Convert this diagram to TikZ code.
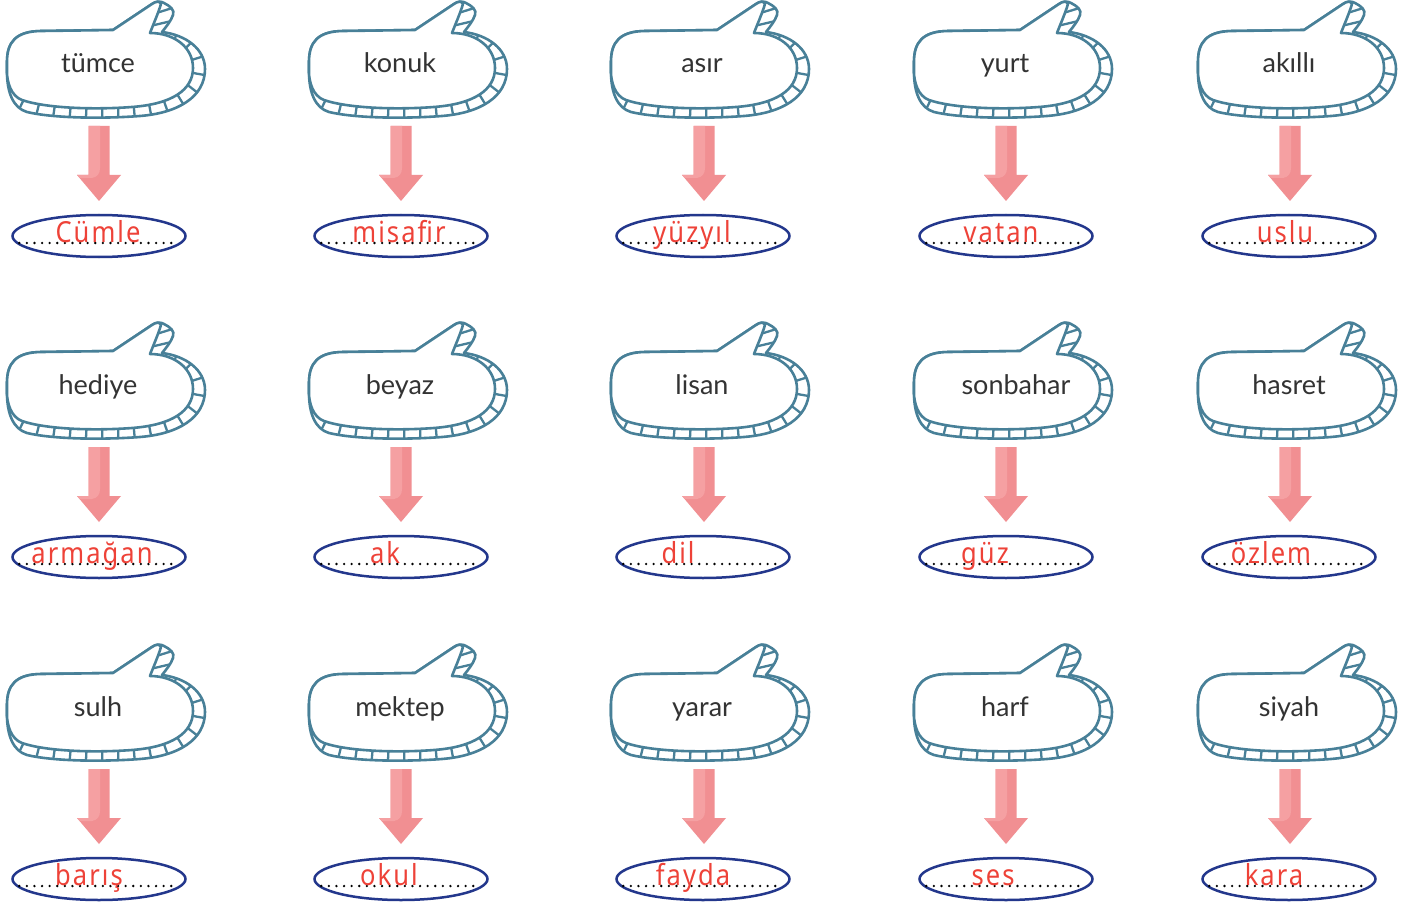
\documentclass[tikz,border=0pt]{standalone}
\usepackage{fontspec}
\setmainfont{Lato}
\newfontfamily\handfont[LetterSpace=8]{Noto Sans}
\usetikzlibrary{decorations.markings,shapes.geometric}
\definecolor{bubteal}{RGB}{72,128,152}
\definecolor{ansblue}{RGB}{35,55,140}
\definecolor{handred}{RGB}{238,66,56}
\definecolor{arrpink}{RGB}{241,143,146}
\definecolor{arrlight}{RGB}{245,160,162}
\def\bubK{(7,62) .. controls (7,42) and (16,31) .. (42,31) -- (113,30) -- (152,4) .. controls (156,1) and (161,1) .. (164,3) .. controls (170,6) and (175,10) .. (173,15) .. controls (171,21) and (166,27) .. (162,32) .. controls (186,35) and (205,49) .. (205,69) .. controls (205,97) and (178,113) .. (140,116) .. controls (100,119) and (52,118) .. (27,112) .. controls (13,108) and (7,92) .. (7,72) -- cycle}
\def\bubF{(7,62) .. controls (7,42) and (16,31) .. (42,31) -- (113,30) -- (152,4) .. controls (156,1) and (160,1) .. (161,4) .. controls (158,14) and (153,25) .. (150,33) .. controls (174,33) and (193,47) .. (193,68) .. controls (193,90) and (172,104) .. (132,107) .. controls (92,110) and (45,108) .. (22,100) .. controls (11,96) and (7,82) .. (7,72) -- cycle}
\def\bubM{(9,85) .. controls (15,104) and (50,113) .. (132,112) .. controls (175,109) and (199,92) .. (199,68) .. controls (199,48) and (182,35) .. (163,32)}
\tikzset{
  bubline/.style={draw=bubteal, line width=2.6pt, line join=round},
  hatchline/.style={draw=bubteal, line width=2.3pt},
  wordtext/.style={font=\fontsize{27}{30}\selectfont, text=black!80, anchor=base, inner sep=0pt},
  handtext/.style={font=\handfont\fontsize{29}{31}\selectfont, text=handred, anchor=base, inner sep=0pt, xscale=0.88},
  ansellipse/.style={ellipse, draw=ansblue, line width=2.5pt, minimum width=173pt, minimum height=42pt, inner sep=0pt},
  dotline/.style={draw=black, line width=2.6pt, line cap=round, dash pattern=on 0pt off 7.6pt},
  pics/bubble/.style n args={2}{code={
    \fill[white] \bubK;
    \begin{scope}
      \clip \bubK;
      \path[decorate, decoration={markings, mark=between positions 0.02 and 1 step 16pt with {\draw[hatchline] (0,-16pt) -- (0,16pt);}}] \bubM;
      \draw[hatchline] (150,15) -- (182,5);
      \draw[hatchline] (146,27) -- (180,19);
    \end{scope}
    \draw[bubline] \bubK;
    \draw[bubline, fill=white] \bubF;
    \node[wordtext] (-txt) at (98+#2,73) {#1};
  }},
  pics/downarr/.style={code={
    \coordinate (-top) at (99,126);
    \fill[arrpink] (88.5,126) -- (109.5,126) -- (109.5,175) -- (121,175) -- (99,201) -- (77,175) -- (88.5,175) -- cycle;
    \fill[arrlight] (88.5,126) -- (100,126) -- (100,168) .. controls (100,174) and (97,177) .. (92,178) -- (80,178) -- (77,175) -- (88.5,175) -- cycle;
  }},
}
\begin{document}
\begin{tikzpicture}[x=1pt,y=-1pt]
\useasboundingbox (0,0) rectangle (1424,904);
\fill[white] (0,0) rectangle (1424,904);
% bubbles
\foreach \bx/\by/\w/\s/\n in {
  0/0/tümce/0/11, 302/0/konuk/0/12, 604/0/asır/0/13, 907/0/yurt/0/14, 1191/0/akıllı/0/15,
  0/321/hediye/0/21, 302/321/beyaz/0/22, 604/321/lisan/0/23, 907/321/sonbahar/11/24, 1191/321/hasret/0/25,
  0/643/sulh/0/31, 302/643/mektep/0/32, 604/643/yarar/0/33, 907/643/harf/0/34, 1191/643/siyah/0/35}
{
  \pic (b\n) at (\bx,\by) {bubble={\w}{\s}};
}
% arrows
\foreach \ax/\by/\n in {
  0/0/11, 302/0/12, 605/0/13, 907/0/14, 1191/0/15,
  0/321/21, 302/321/22, 605/321/23, 907/321/24, 1191/321/25,
  0/643/31, 302/643/32, 605/643/33, 907/643/34, 1191/643/35}
{
  \pic (a\n) at (\ax,\by) {downarr};
}
% answer ellipses
\foreach \ex/\ey/\hx/\w/\n in {
  99/236/98/Cümle/11, 401/236/399/misafir/12, 703/236/692/yüzyıl/13, 1006/236/1001/vatan/14, 1289/236/1285/uslu/15,
  99/557/92/armağan/21, 401/557/385/ak/22, 703/557/678/dil/23, 1006/557/985/güz/24, 1289/557/1271/özlem/25,
  99/879/89/barış/31, 401/879/389/okul/32, 703/879/693/fayda/33, 1006/879/993/ses/34, 1289/879/1274/kara/35}
{
  \node[ansellipse] (e\n) at (\ex,\ey) {};
  \draw[dotline] ([xshift=8pt,yshift=-7pt]e\n.west) -- ([xshift=-8pt,yshift=-7pt]e\n.east);
  \node[handtext] (h\n) at (\hx,\ey+6) {\w};
}
\end{tikzpicture}
\end{document}
